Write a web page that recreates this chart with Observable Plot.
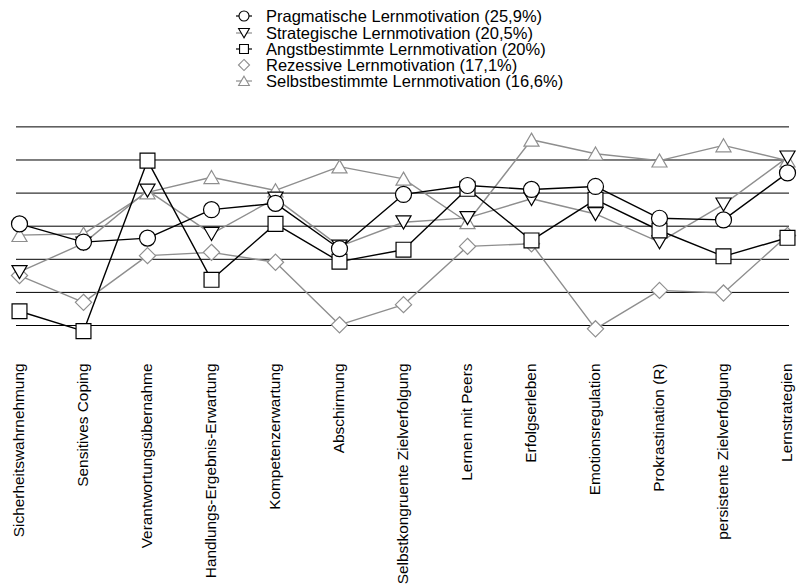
<!DOCTYPE html>
<html>
<head>
<meta charset="utf-8">
<script src="https://cdn.jsdelivr.net/npm/d3@7"></script>
<script src="https://cdn.jsdelivr.net/npm/@observablehq/plot@0.6"></script>
<style>
  html, body { margin: 0; padding: 0; background: #fff; }
  body { width: 799px; height: 586px; overflow: hidden; position: relative; font-family: "Liberation Sans", Arial, sans-serif; }
  #legend { position: absolute; left: 232px; top: 8.4px; }
  .row { display: flex; align-items: center; height: 16.2px; font-size: 16.5px; line-height: 16.2px; color: #000; white-space: nowrap; }
  .row svg { width: 24px; height: 16px; flex: none; margin-right: 10px; }
  #chart { position: absolute; left: 0; top: 100px; }
</style>
</head>
<body>
<div id="legend"></div>
<div id="chart"></div>
<script>
// Categories (x axis)
const categories = [
  "Sicherheitswahrnehmung", "Sensitives Coping", "Verantwortungsübernahme",
  "Handlungs-Ergebnis-Erwartung", "Kompetenzerwartung", "Abschirmung",
  "Selbstkongruente Zielverfolgung", "Lernen mit Peers", "Erfolgserleben",
  "Emotionsregulation", "Prokrastination (R)", "persistente Zielverfolgung",
  "Lernstrategien"
];

// Series names
const seriesNames = [
  "Pragmatische Lernmotivation (25,9%)",
  "Strategische Lernmotivation (20,5%)",
  "Angstbestimmte Lernmotivation (20%)",
  "Rezessive Lernmotivation (17,1%)",
  "Selbstbestimmte Lernmotivation (16,6%)"
];

// Series values (grid units)
const pragmatische   = [0.07, -0.48, -0.36, 0.50, 0.69, -0.68, 0.96, 1.23, 1.11, 1.20, 0.24, 0.19, 1.61];
const strategische   = [-1.38, -0.52, 1.08, -0.23, 0.84, -0.61, 0.12, 0.25, 0.83, 0.37, -0.48, 0.66, 2.08];
const angstbestimmte = [-2.57, -3.17, 1.98, -1.62, 0.07, -1.07, -0.71, 1.13, -0.43, 0.80, -0.13, -0.91, -0.35];
const rezessive      = [-1.49, -2.30, -0.89, -0.79, -1.09, -2.98, -2.37, -0.61, -0.53, -3.10, -1.94, -2.02, -0.28];
const selbstbestimmt = [-0.27, -0.23, 1.02, 1.48, 1.08, 1.80, 1.43, 0.12, 2.61, 2.19, 1.98, 2.44, 1.98];

// Gridline values
const gridTicks = [-3, -2, -1, 0, 1, 2, 3];

const black = "#000";
const grey = "#8e8e8e";

const styles = [
  {values: pragmatische,   symbol: "circle",   r: 8,   rotate: 0,   dy: 0,  line: black, stroke: black, lr: 5},
  {values: strategische,   symbol: "triangle", r: 5.6, rotate: 180, dy: -2, line: grey,  stroke: black, lr: 4},
  {values: angstbestimmte, symbol: "square",   r: 8.4, rotate: 0,   dy: 0,  line: black, stroke: black, lr: 5},
  {values: rezessive,      symbol: "diamond2", r: 7.3, rotate: 0,   dy: 0,  line: grey,  stroke: grey,  lr: 5, noLegendLine: true},
  {values: selbstbestimmt, symbol: "triangle", r: 5.6, rotate: 0,   dy: 2,  line: grey,  stroke: grey,  lr: 4}
];

// Legend
const symMap = {circle: d3.symbolCircle, triangle: d3.symbolTriangle, square: d3.symbolSquare, diamond2: d3.symbolDiamond2};
const legend = d3.select("#legend");
seriesNames.forEach((name, i) => {
  const s = styles[i];
  const row = legend.append("div").attr("class", "row");
  const svg = row.append("svg").attr("viewBox", "0 0 24 16");
  if (!s.noLegendLine) {
    svg.append("line").attr("x1", 4).attr("x2", 20).attr("y1", 8).attr("y2", 8)
      .attr("stroke", s.line).attr("stroke-width", 1.2);
  }
  const size = Math.PI * s.lr * s.lr;
  svg.append("path")
    .attr("d", d3.symbol(symMap[s.symbol], size)())
    .attr("transform", `translate(12,${8 + (s.dy ? s.dy * 0.7 : 0)}) rotate(${s.rotate})`)
    .attr("fill", "white").attr("stroke", s.stroke).attr("stroke-width", 1.1);
  row.append("span").text(name);
});

// Draw order: bottom to top
const order = [4, 3, 1, 2, 0];
const marks = [Plot.ruleY(gridTicks, {stroke: "#000", strokeWidth: 1})];
for (const i of order) {
  const s = styles[i];
  const rows = categories.map((c, j) => ({cat: c, v: s.values[j]}));
  marks.push(Plot.line(rows, {x: "cat", y: "v", stroke: s.line, strokeWidth: 1.4}));
  marks.push(Plot.dot(rows, {x: "cat", y: "v", symbol: s.symbol, r: s.r, rotate: s.rotate, dy: s.dy,
    fill: "white", stroke: s.stroke, strokeWidth: 1.2}));
}
marks.push(Plot.axisX({tickRotate: -90, tickSize: 0, tickPadding: 3, label: null, fontSize: 15.4, fill: "#000"}));

const chart = Plot.plot({
  width: 799,
  height: 486,
  marginTop: 10,
  marginBottom: 226,
  marginLeft: 16,
  marginRight: 10,
  style: {fontFamily: "'Liberation Sans', Arial, sans-serif", fontSize: "15.4px", background: "white", color: "#000"},
  x: {type: "point", domain: categories, padding: 0, axis: null},
  y: {domain: [-4.057, 3.495], axis: null},
  marks
});
document.getElementById("chart").appendChild(chart);
</script>
</body>
</html>
